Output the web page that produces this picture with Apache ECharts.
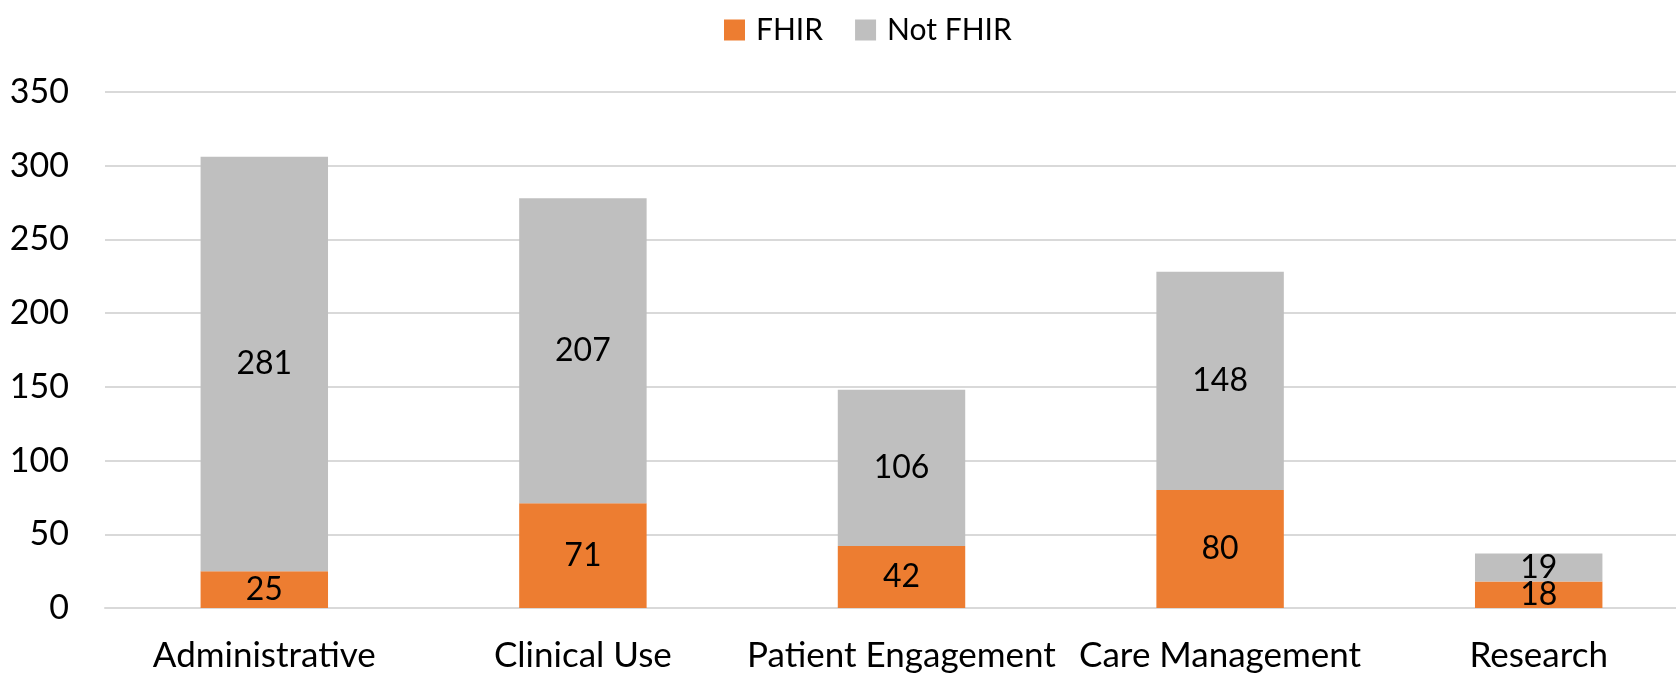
<!DOCTYPE html>
<html><head><meta charset="utf-8">
<script src="https://cdn.jsdelivr.net/npm/echarts@6/dist/echarts.min.js"></script>
<style>html,body{margin:0;padding:0;background:#fff;overflow:hidden}#c{width:1698px;height:673px}</style>
</head><body><div id="c"></div>
<script>
const categories = ["Administrative", "Clinical Use", "Patient Engagement", "Care Management", "Research"];
const fhir = [25, 71, 42, 80, 18];
const notFhir = [281, 207, 106, 148, 19];
const yTicks = [0, 50, 100, 150, 200, 250, 300, 350];
const FONT = "Lato";
const chart = echarts.init(document.getElementById('c'));
const lbl = {show: true, position: 'inside', color: '#000', fontFamily: FONT, fontSize: 32};
chart.setOption({
  animation: false,
  textStyle: {fontFamily: FONT},
  legend: {
    top: 10, left: 719, itemWidth: 21, itemHeight: 21, itemGap: 32,
    icon: 'rect',
    textStyle: {fontFamily: FONT, fontSize: 30, color: '#000', padding: [0, 0, 0, 6]},
    data: ['FHIR', 'Not FHIR']
  },
  grid: {left: 105, right: 0, top: 92, bottom: 64, containLabel: false},
  xAxis: {
    type: 'category', data: categories,
    axisLine: {show: true, lineStyle: {color: '#D9D9D9', width: 2}},
    axisTick: {show: false},
    axisLabel: {color: '#000', fontFamily: FONT, fontSize: 35, margin: 30, interval: 0}
  },
  yAxis: {
    type: 'value', min: yTicks[0], max: yTicks[yTicks.length - 1], interval: 50,
    axisLine: {show: false}, axisTick: {show: false},
    splitLine: {lineStyle: {color: '#D9D9D9', width: 2}},
    axisLabel: {color: '#000', fontFamily: FONT, fontSize: 34, margin: 36}
  },
  series: [
    {name: 'FHIR', type: 'bar', stack: 't', data: fhir, barWidth: '40%',
     itemStyle: {color: '#ED7D31'}, label: lbl},
    {name: 'Not FHIR', type: 'bar', stack: 't', data: notFhir, barWidth: '40%',
     itemStyle: {color: '#BFBFBF'}, label: lbl}
  ]
});
</script></body></html>
